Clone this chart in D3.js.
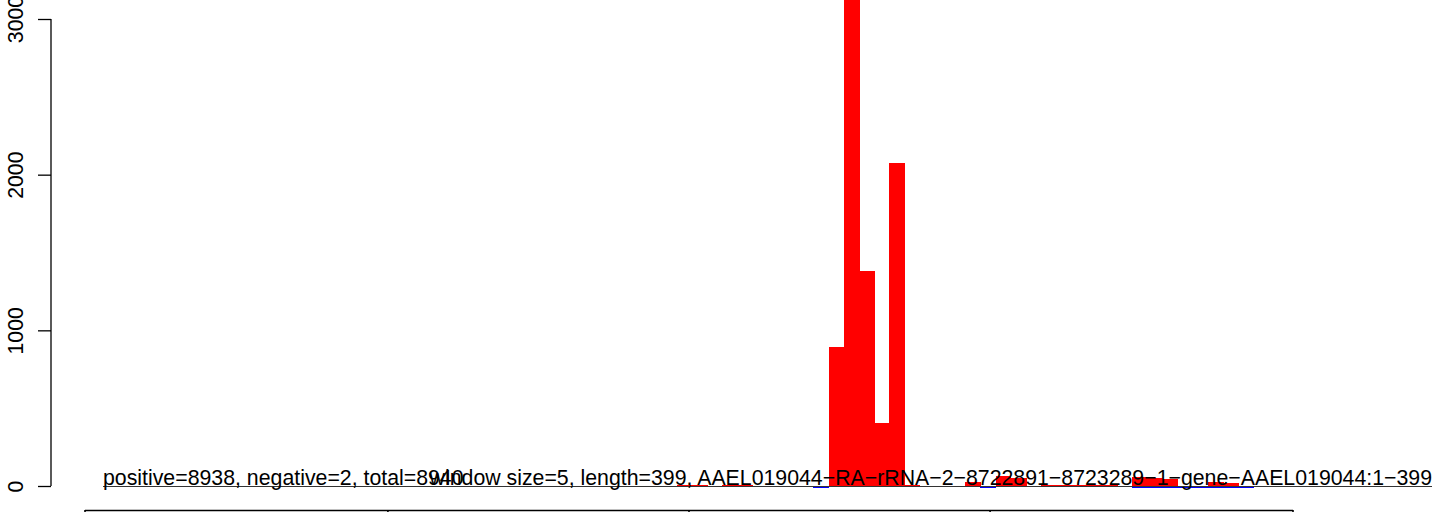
<!DOCTYPE html>
<html>
<head>
<meta charset="utf-8">
<script src="https://cdn.jsdelivr.net/npm/d3@7"></script>
<style>
  html, body { margin: 0; padding: 0; background: #fff; }
  svg { display: block; }
  text { font-family: "Liberation Sans", Arial, Helvetica, sans-serif; }
</style>
</head>
<body>
<svg id="chart" width="1444" height="512"></svg>
<script>
// ---- data ----
const windowSize = 5;
const seqLength = 399;
// positive coverage per window (window start position, value)
const posStarts = [196, 201, 211, 216, 246, 251, 256, 261, 266, 271, 291, 301, 306, 316, 321, 326, 331, 336, 346, 351, 356, 371, 376];
const posValues = [5, 5, 5, 5, 890, 3800, 1378, 404, 2076, 5, 26, 64, 50, 8, 8, 8, 8, 8, 56, 54, 45, 24, 22];
// negative coverage per window
const negStarts = [241, 296, 346, 351, 356, 361, 366, 371, 376, 381];
const negValues = [-1, -1, -1, -1, -1, -1, -1, -1, -1, -1];
const yTicks = [0, 1000, 2000, 3000];
const segmentBreaks = [1, 100.8, 200, 299.2, 399];
const label1 = "positive=8938, negative=2, total=8940";
const label2 = "window size=5, length=399, AAEL019044\u2212RA\u2212rRNA\u22122\u22128722891\u22128723289\u22121\u2212gene\u2212AAEL019044:1\u2212399";

// ---- layout ----
const svg = d3.select("#chart");
const x = d3.scaleLinear().domain([1, seqLength]).range([85, 1293]);
const y = d3.scaleLinear().domain([0, 3000]).range([486, 19]);
const fs = "21.3px";

// positive bars
svg.append("g").attr("shape-rendering", "crispEdges")
  .selectAll("rect").data(posStarts.map((s, i) => ({ s, v: posValues[i] })))
  .join("rect")
  .attr("x", d => x(d.s))
  .attr("width", d => x(d.s + windowSize) - x(d.s) + 0.6)
  .attr("y", d => y(d.v))
  .attr("height", d => y(0) - y(d.v))
  .attr("fill", "#ff0000");

// negative bars
svg.append("g").attr("shape-rendering", "crispEdges")
  .selectAll("rect").data(negStarts.map((s, i) => ({ s, v: negValues[i] })))
  .join("rect")
  .attr("x", d => x(d.s))
  .attr("width", d => x(d.s + windowSize) - x(d.s) + 0.6)
  .attr("y", y(0) + 0.5)
  .attr("height", d => Math.max(1.2, y(d.v) - y(0)))
  .attr("fill", "#0000ff");

// baseline
svg.append("line")
  .attr("x1", 103).attr("x2", 1432)
  .attr("y1", y(0) + 0.5).attr("y2", y(0) + 0.5)
  .attr("stroke", "#333").attr("stroke-width", 1);

// y axis
const yAxis = d3.axisLeft(y).tickValues(yTicks).tickSize(13).tickFormat(d3.format("d"));
const ga = svg.append("g").attr("transform", "translate(51,0)").call(yAxis);
ga.select(".domain").attr("stroke", "#000").attr("stroke-width", 1.3)
  .attr("d", `M0,${y(0)}V${y(3000)}`);
ga.selectAll(".tick line").attr("stroke", "#000").attr("stroke-width", 1.3);
ga.selectAll(".tick text")
  .attr("font-size", fs)
  .attr("fill", "#000")
  .attr("x", null).attr("dy", null)
  .attr("text-anchor", "middle")
  .attr("transform", "translate(-28,0) rotate(-90)");
ga.attr("font-family", null);

// labels
svg.append("text").attr("x", 103).attr("y", 485).attr("font-size", fs).attr("fill", "#000").text(label1);
svg.append("text").attr("x", 1432).attr("y", 485).attr("font-size", fs).attr("fill", "#000")
  .attr("text-anchor", "end").text(label2);

// bottom panel segments
svg.append("line")
  .attr("x1", x(segmentBreaks[0])).attr("x2", x(segmentBreaks[segmentBreaks.length - 1]))
  .attr("y1", 510.5).attr("y2", 510.5)
  .attr("stroke", "#000").attr("stroke-width", 1.6);
svg.append("g").selectAll("line").data(segmentBreaks).join("line")
  .attr("x1", d => x(d)).attr("x2", d => x(d))
  .attr("y1", 510).attr("y2", 520)
  .attr("stroke", "#000").attr("stroke-width", 1.6);
</script>
</body>
</html>
